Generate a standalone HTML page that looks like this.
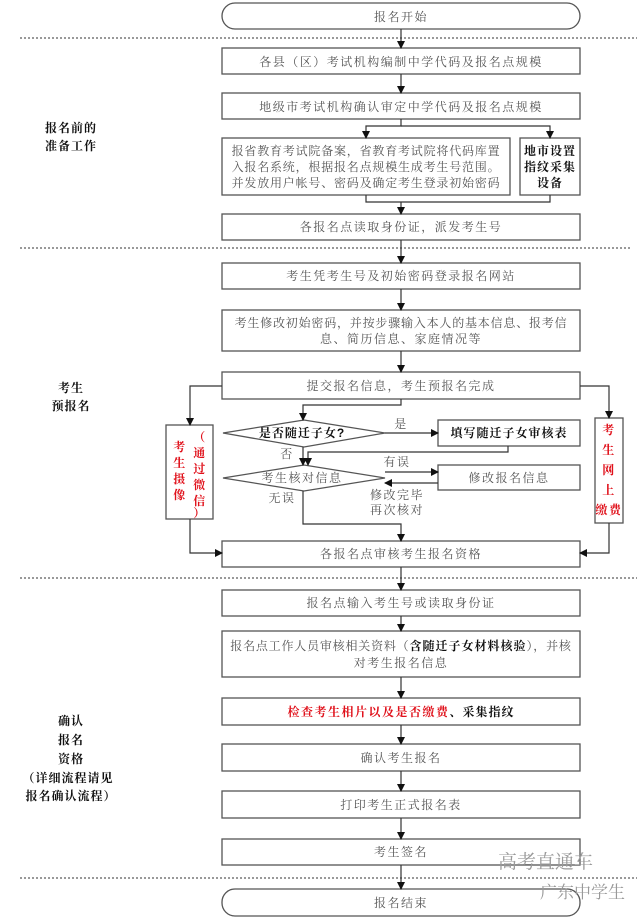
<!DOCTYPE html>
<html><head><meta charset="utf-8"><style>
html,body{margin:0;padding:0;background:#fff;}
svg{display:block;}
text{font-family:"Liberation Sans","Noto Serif CJK SC","Noto Sans CJK SC",serif;font-size:12px;fill:#555;letter-spacing:1.5px;}
.b{fill:#111;font-weight:bold;letter-spacing:1px;}
.r{fill:#e0101a;font-weight:bold;}
</style></head><body>
<svg width="637" height="924" viewBox="0 0 637 924">
<defs><marker id="a" markerWidth="8" markerHeight="8" refX="7" refY="4" orient="auto" markerUnits="userSpaceOnUse"><path d="M0,0L8,4L0,8z" fill="#111"/></marker></defs>
<g fill="none" stroke="#555" stroke-width="1.3">
<rect x="222" y="3" width="358" height="26" rx="13"/>
<rect x="222" y="48" width="358" height="26"/>
<rect x="222" y="93" width="358" height="26"/>
<rect x="222" y="138" width="288" height="57"/>
<rect x="520" y="138" width="60" height="57"/>
<rect x="222" y="214" width="358" height="26"/>
<rect x="222" y="263" width="358" height="26"/>
<rect x="222" y="310" width="358" height="41"/>
<rect x="222" y="372" width="358" height="27"/>
<polygon points="223,433 304,420 385,433 304,447"/>
<rect x="438" y="420" width="142" height="26"/>
<polygon points="223,478 304,465 385,478 304,491"/>
<rect x="438" y="465" width="142" height="25"/>
<rect x="166" y="425" width="47" height="94"/>
<rect x="595" y="418" width="28" height="105"/>
<rect x="222" y="541" width="358" height="26"/>
<rect x="222" y="590" width="358" height="26"/>
<rect x="222" y="631" width="358" height="46"/>
<rect x="222" y="698" width="358" height="27"/>
<rect x="222" y="744" width="358" height="27"/>
<rect x="222" y="791" width="358" height="27"/>
<rect x="222" y="839" width="358" height="26"/>
<rect x="222" y="889" width="358" height="27" rx="13"/>
</g>
<g stroke="#333" stroke-width="1" stroke-dasharray="2,2">
<line x1="20" y1="38" x2="637" y2="38"/><line x1="20" y1="248" x2="630" y2="248"/>
<line x1="20" y1="578" x2="637" y2="578"/><line x1="20" y1="878" x2="637" y2="878"/>
</g>
<g fill="none" stroke="#333" stroke-width="1.2" marker-end="url(#a)">
<path d="M401 29V48"/><path d="M401 74V93"/>
<path d="M401 119V126H366V138"/><path d="M401 126H550V138"/>
<path d="M366 195V202H550V195" marker-end="none"/><path d="M401 202V214"/>
<path d="M401 240V263"/><path d="M401 289V310"/><path d="M401 351V372"/>
<path d="M401 399V405H303V420"/>
<path d="M222 386H190V425"/><path d="M580 386H609V418"/>
<path d="M385 433H438"/>
<path d="M303 447V465"/><path d="M508 446V452H308V465"/>
<path d="M385 472H438"/><path d="M438 483H385"/>
<path d="M303 491V524H401V541"/>
<path d="M190 519V553H222"/><path d="M609 523V553H580"/>
<path d="M401 567V590"/><path d="M401 616V631"/><path d="M401 677V698"/>
<path d="M401 725V744"/><path d="M401 771V791"/><path d="M401 818V839"/><path d="M401 865V889"/>
</g>
<g text-anchor="middle">
<text x="401" y="21">报名开始</text>
<text x="401" y="66">各县（区）考试机构编制中学代码及报名点规模</text>
<text x="401" y="111">地级市考试机构确认审定中学代码及报名点规模</text>
<text x="366" y="155" style="letter-spacing:0.8px">报省教育考试院备案，省教育考试院将代码库置</text>
<text x="366" y="171" style="letter-spacing:0.8px">入报名系统，根据报名点规模生成考生号范围。</text>
<text x="366" y="187" style="letter-spacing:0.8px">并发放用户帐号、密码及确定考生登录初始密码</text>
<text x="550" y="155" class="b">地市设置</text>
<text x="550" y="171" class="b">指纹采集</text>
<text x="550" y="187" class="b">设备</text>
<text x="401" y="231">各报名点读取身份证，派发考生号</text>
<text x="401" y="280">考生凭考生号及初始密码登录报名网站</text>
<text x="401" y="327" style="letter-spacing:0.8px">考生修改初始密码，并按步骤输入本人的基本信息、报考信</text>
<text x="401" y="343">息、简历信息、家庭情况等</text>
<text x="401" y="390">提交报名信息，考生预报名完成</text>
<text x="302" y="437" class="b">是否随迁子女?</text>
<text x="509" y="437" class="b">填写随迁子女审核表</text>
<text x="302" y="482">考生核对信息</text>
<text x="509" y="482">修改报名信息</text>
<text x="401" y="558">各报名点审核考生报名资格</text>
<text x="401" y="607">报名点输入考生号或读取身份证</text>
<text x="401" y="650" style="letter-spacing:0.8px">报名点工作人员审核相关资料（<tspan class="b">含随迁子女材料核验</tspan>），并核</text>
<text x="401" y="667">对考生报名信息</text>
<text x="401" y="716"><tspan class="r">检查考生相片以及是否缴费</tspan><tspan class="b">、采集指纹</tspan></text>
<text x="401" y="762">确认考生报名</text>
<text x="401" y="809">打印考生正式报名表</text>
<text x="401" y="856">考生签名</text>
<text x="401" y="907">报名结束</text>
<text x="401" y="428">是</text>
<text x="287" y="458">否</text>
<text x="397" y="466">有误</text>
<text x="282" y="502">无误</text>
<text x="397" y="499">修改完毕</text>
<text x="397" y="514">再次核对</text>
<text x="609" y="434" class="r">考</text><text x="609" y="454" class="r">生</text><text x="609" y="474" class="r">网</text><text x="609" y="494" class="r">上</text><text x="609" y="514" class="r">缴费</text>
<text x="180" y="451" class="r">考</text><text x="180" y="467" class="r">生</text><text x="180" y="483" class="r">摄</text><text x="180" y="499" class="r">像</text>
<text x="200" y="441" class="r">（</text><text x="200" y="457" class="r">通</text><text x="200" y="473" class="r">过</text><text x="200" y="489" class="r">微</text><text x="200" y="505" class="r">信</text><text x="200" y="517" class="r">）</text>
<text x="71" y="132" class="b">报名前的</text><text x="71" y="150" class="b">准备工作</text>
<text x="71" y="392" class="b">考生</text><text x="71" y="410" class="b">预报名</text>
<text x="71" y="725" class="b">确认</text><text x="71" y="744" class="b">报名</text><text x="71" y="763" class="b">资格</text>
<text x="68" y="782" class="b">（详细流程请见</text><text x="71" y="800" class="b">报名确认流程）</text>
</g>
<text x="498" y="868" style="font-size:19px;fill:#999;letter-spacing:0">高考直通车</text>
<text x="540" y="898" style="font-size:17px;fill:#999;letter-spacing:0">广东中学生</text>
</svg>
</body></html>
